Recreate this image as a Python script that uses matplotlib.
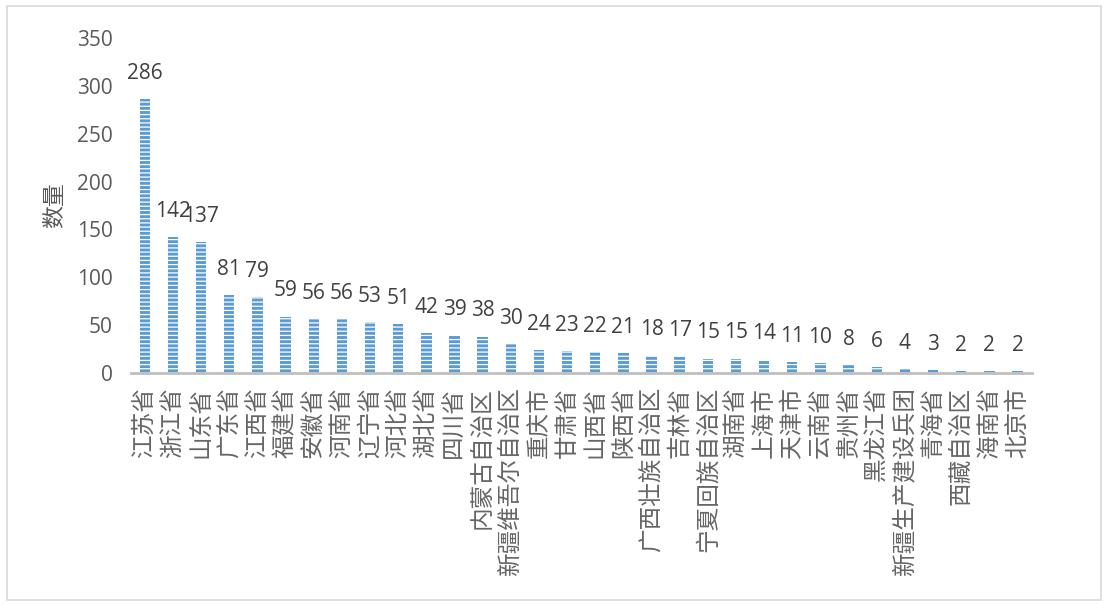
import matplotlib
matplotlib.use("Agg")
import matplotlib.pyplot as plt
from matplotlib.patches import Rectangle

plt.rcParams['font.family'] = ['Noto Sans CJK SC', 'DejaVu Sans']
plt.rcParams['hatch.linewidth'] = 0.9
num_font = ['Open Sans', 'DejaVu Sans']

categories = ["江苏省", "浙江省", "山东省", "广东省", "江西省", "福建省", "安徽省", "河南省",
              "辽宁省", "河北省", "湖北省", "四川省", "内蒙古自治区", "新疆维吾尔自治区", "重庆市",
              "甘肃省", "山西省", "陕西省", "广西壮族自治区", "吉林省", "宁夏回族自治区", "湖南省",
              "上海市", "天津市", "云南省", "贵州省", "黑龙江省", "新疆生产建设兵团", "青海省",
              "西藏自治区", "海南省", "北京市"]
values = [286, 142, 137, 81, 79, 59, 56, 56, 53, 51, 42, 39, 38, 30, 24, 23, 22, 21, 18, 17,
          15, 15, 14, 11, 10, 8, 6, 4, 3, 2, 2, 2]
yticks = [0, 50, 100, 150, 200, 250, 300, 350]

fig = plt.figure(figsize=(11.08, 6.04), dpi=100)
fig.patches.append(Rectangle((0.006, 0.006), 0.988, 0.984, transform=fig.transFigure,
                             fill=False, edgecolor='#d9d9d9', linewidth=1.2))
n = len(categories)
ax = fig.add_axes([0.118, 0.3825, 0.813, 0.5545])
x = list(range(n))
bars = ax.bar(x, values, width=0.37, color='#5b9bd5', edgecolor='white', linewidth=0, hatch='----')
ax.set_xlim(-0.5, n - 0.5)
ax.set_ylim(0, 350)
ax.set_yticks(yticks)
ax.set_yticklabels([str(v) for v in yticks], fontsize=15, color='#595959', family=num_font)
ax.set_xticks(x)
ax.set_xticklabels(categories, rotation=90, fontsize=17, color='#666666', va='top', ha='center',
                   fontweight='light')
for s in ['top', 'right', 'left']:
    ax.spines[s].set_visible(False)
ax.spines['bottom'].set_color('#bfbfbf')
ax.spines['bottom'].set_linewidth(2)
ax.tick_params(axis='both', length=0)
ax.tick_params(axis='x', pad=10)
ax.tick_params(axis='y', pad=13)
for xi, v in zip(x, values):
    ax.annotate(str(v), (xi, v), xytext=(0, 11), textcoords='offset points',
                ha='center', va='bottom', fontsize=15, color='#404040', family=num_font)
ax.set_ylabel('数量', fontsize=16.5, color='#595959', labelpad=8, fontweight='light')
fig.savefig('out.png', dpi=100)
